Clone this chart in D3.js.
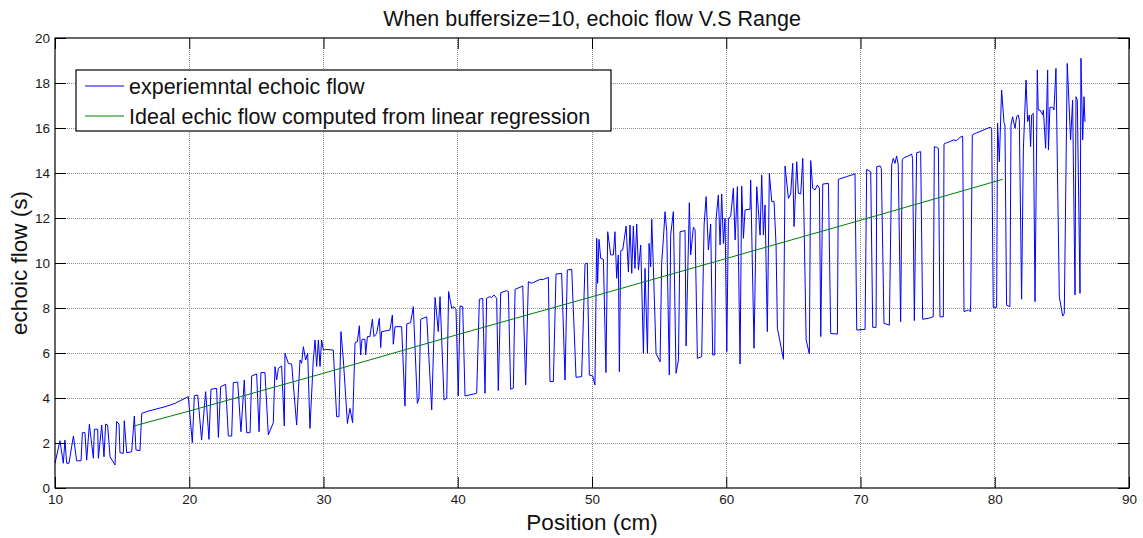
<!DOCTYPE html>
<html>
<head>
<meta charset="utf-8">
<script src="https://cdn.jsdelivr.net/npm/d3@7"></script>
<style>
  html, body { margin: 0; padding: 0; background: #fff; }
  svg { display: block; font-family: "Liberation Sans", Arial, sans-serif; }
</style>
</head>
<body>
<svg id="chart" width="1143" height="538"></svg>
<script>
// Measured echoic flow (s) against position (cm), buffer size 10
const experimental = [
  [10.0,1.10],[10.37,2.10],[10.62,1.10],[10.74,2.13],[10.87,1.10],[11.04,1.10],[11.37,2.31],[11.61,1.21],
  [11.94,1.21],[12.04,2.46],[12.23,2.46],[12.36,1.24],[12.56,2.83],[12.86,1.32],[12.93,2.61],[13.18,2.61],
  [13.23,1.32],[13.48,2.80],[13.65,1.39],[13.77,2.84],[13.92,2.80],[14.10,1.39],[14.47,1.02],[14.59,2.95],
  [14.77,2.84],[14.84,1.57],[15.09,1.54],[15.16,2.99],[15.34,1.57],[15.71,1.61],[15.91,3.20],[16.03,1.69],
  [16.33,1.66],[16.46,3.32],[17.08,3.44],[18.19,3.61],[18.94,3.76],[19.93,4.06],[20.23,2.01],[20.38,4.10],
  [20.63,4.13],[20.92,2.13],[21.22,4.28],[21.47,2.16],[21.62,4.39],[22.04,4.43],[22.17,2.25],[22.34,4.50],
  [22.71,4.61],[22.91,2.31],[23.16,2.31],[23.28,4.68],[23.61,4.71],[23.85,2.50],[24.10,4.80],[24.28,2.46],
  [24.53,2.46],[24.65,4.98],[25.02,5.07],[25.20,2.50],[25.34,5.13],[25.64,5.13],[25.89,2.36],[26.26,2.90],
  [26.39,5.39],[26.51,4.80],[26.64,5.32],[26.88,5.42],[27.08,2.76],[27.13,5.99],[27.38,5.54],[27.63,5.51],
  [28.00,2.80],[28.25,5.69],[28.37,5.54],[28.50,6.28],[28.67,5.69],[28.82,5.99],[28.99,2.65],[29.24,5.69],
  [29.37,6.58],[29.49,5.40],[29.62,6.58],[29.74,5.40],[29.86,6.58],[29.99,6.13],[30.16,6.16],[30.73,6.13],
  [30.98,3.17],[31.15,3.17],[31.30,6.95],[31.48,5.69],[31.78,2.87],[31.97,3.54],[32.17,2.90],[32.35,6.46],
  [32.52,6.50],[32.67,7.21],[32.77,5.91],[32.87,6.61],[33.09,6.61],[33.14,5.91],[33.27,6.73],[33.46,6.73],
  [33.64,7.50],[33.76,6.73],[33.96,6.87],[34.16,7.54],[34.26,6.24],[34.33,6.95],[34.95,7.02],[35.13,7.69],
  [35.20,6.39],[35.33,7.17],[35.82,7.17],[36.07,3.64],[36.20,7.29],[36.49,7.35],[36.69,8.06],[36.99,3.76],
  [37.11,3.99],[37.24,7.50],[37.69,7.61],[38.06,3.47],[38.31,8.47],[38.43,7.73],[38.55,6.95],[38.68,8.50],
  [38.98,3.91],[39.18,3.99],[39.32,8.73],[39.55,7.99],[39.72,8.06],[39.87,7.94],[40.04,4.09],[40.17,8.09],
  [40.37,8.06],[40.54,4.09],[41.41,4.21],[41.61,8.39],[41.86,8.43],[42.03,4.21],[42.15,8.43],[42.35,8.50],
  [42.53,8.47],[42.70,8.58],[42.90,8.43],[43.02,4.33],[43.20,8.68],[43.64,8.77],[43.77,8.73],[43.94,4.39],
  [44.14,4.44],[44.27,8.83],[44.64,8.92],[44.84,8.98],[45.06,4.58],[45.26,9.17],[45.51,9.10],[45.76,9.17],
  [46.13,9.27],[46.38,9.27],[46.75,9.36],[46.87,4.73],[47.12,4.73],[47.32,9.51],[47.74,9.54],[47.99,4.80],
  [48.16,9.69],[48.49,9.72],[48.81,4.92],[49.23,4.95],[49.48,9.96],[49.65,9.99],[49.80,5.02],[50.05,4.98],
  [50.22,4.58],[50.35,11.10],[50.42,9.10],[50.52,11.05],[50.65,10.21],[50.85,10.16],[51.04,5.13],[51.17,11.39],
  [51.39,10.36],[51.59,10.36],[51.71,11.39],[51.84,9.32],[51.96,10.36],[52.04,5.17],[52.14,10.55],[52.29,10.58],
  [52.54,11.64],[52.71,9.61],[52.83,11.69],[52.96,9.54],[53.08,11.64],[53.20,9.76],[53.33,11.73],[53.46,9.69],
  [53.63,10.80],[53.83,5.99],[53.95,9.76],[54.13,5.99],[54.25,10.87],[54.37,9.83],[54.45,11.94],[54.57,9.83],
  [54.77,5.99],[55.07,5.61],[55.19,10.00],[55.32,11.10],[55.44,12.28],[55.57,11.39],[55.76,5.02],[55.86,11.24],
  [56.06,12.28],[56.26,5.10],[56.44,5.69],[56.56,11.39],[56.93,11.44],[57.01,6.31],[57.25,12.68],[57.35,10.36],
  [57.55,11.59],[57.68,11.47],[57.85,5.76],[58.17,5.84],[58.35,11.69],[58.50,12.95],[58.67,10.58],[58.84,11.73],
  [58.99,5.91],[59.14,5.91],[59.24,11.94],[59.41,13.02],[59.54,10.80],[59.66,13.07],[59.79,10.87],[59.91,11.99],
  [60.04,6.06],[60.16,11.99],[60.33,12.06],[60.53,13.32],[60.66,11.02],[60.83,13.39],[61.03,5.51],[61.15,13.42],
  [61.28,11.10],[61.40,12.36],[61.77,12.39],[61.82,13.69],[62.07,6.21],[62.27,13.39],[62.52,11.24],[62.64,13.91],
  [62.77,11.24],[62.89,12.58],[63.06,6.95],[63.21,13.99],[63.39,12.73],[63.56,12.73],[63.71,10.80],[63.81,7.10],
  [64.26,5.72],[64.38,14.31],[64.63,12.87],[64.80,13.07],[64.95,14.43],[65.05,11.62],[65.25,14.50],[65.37,13.10],
  [65.55,13.07],[65.70,14.65],[65.80,11.69],[65.95,6.58],[66.19,5.96],[66.29,14.55],[66.44,13.32],[66.62,13.25],
  [66.79,13.47],[66.94,13.33],[67.04,6.73],[67.19,13.51],[67.61,13.54],[67.78,6.87],[68.28,6.84],[68.35,13.72],
  [68.97,13.84],[69.59,13.96],[69.72,7.02],[70.34,7.05],[70.46,14.16],[70.76,14.06],[70.91,7.14],[71.16,7.14],
  [71.21,14.28],[71.46,14.31],[71.55,14.21],[71.75,7.32],[72.15,7.24],[72.32,14.36],[72.44,14.65],[72.57,14.43],
  [72.69,14.76],[72.81,14.36],[72.99,7.39],[73.11,14.61],[73.31,14.70],[73.56,14.76],[73.81,14.84],[73.88,14.65],
  [74.01,7.44],[74.18,14.90],[74.48,14.95],[74.63,7.50],[75.05,7.54],[75.42,7.61],[75.50,15.17],[75.67,15.14],
  [75.80,15.10],[75.92,7.61],[76.17,7.61],[76.22,15.29],[76.42,15.35],[76.66,15.39],[76.91,15.47],[77.16,15.44],
  [77.41,15.58],[77.61,15.64],[77.71,7.84],[78.03,7.91],[78.20,7.84],[78.33,15.69],[78.65,15.79],[78.90,15.84],
  [79.27,15.94],[79.64,16.03],[79.77,15.99],[79.89,8.03],[80.14,8.03],[80.21,16.21],[80.34,14.50],[80.51,17.69],
  [80.69,16.24],[80.76,16.13],[80.88,8.13],[81.13,8.06],[81.21,16.13],[81.33,16.50],[81.51,15.99],[81.63,16.50],
  [81.75,16.58],[81.83,16.36],[82.00,8.39],[82.13,15.02],[82.33,18.13],[82.45,16.28],[82.57,16.58],[82.67,15.17],
  [82.75,16.58],[82.87,16.65],[83.00,8.28],[83.17,18.58],[83.24,16.80],[83.37,16.80],[83.57,16.58],[83.62,16.80],
  [83.79,15.10],[83.94,18.58],[84.00,15.02],[84.11,16.92],[84.31,16.92],[84.41,16.80],[84.56,18.65],[84.81,8.50],
  [85.06,7.64],[85.18,7.76],[85.40,18.87],[85.65,15.47],[85.80,17.24],[85.98,8.58],[86.05,17.39],[86.15,17.24],
  [86.35,8.65],[86.42,19.10],[86.55,15.47],[86.65,17.39],[86.72,16.28]
];

// Linear-regression estimate of the echoic flow
const ideal = [
  [15.91,2.76],[20.0,3.42],[30.0,5.10],[40.0,6.82],[50.0,8.50],[60.0,10.20],[70.0,11.90],[80.59,13.72]
];

const xTicks = [10, 20, 30, 40, 50, 60, 70, 80, 90];
const yTicks = [0, 2, 4, 6, 8, 10, 12, 14, 16, 18, 20];
const legendLabels = ["experiemntal echoic flow", "Ideal echic flow computed from linear regression"];
const seriesColors = ["#0000ff", "#008000"];
const titleText = "When buffersize=10, echoic flow V.S Range";
const xLabel = "Position (cm)";
const yLabel = "echoic flow (s)";

const svg = d3.select("#chart");
const plot = { left: 55, right: 1129, top: 38, bottom: 488 };

const x = d3.scaleLinear().domain([10, 90]).range([plot.left, plot.right]);
const y = d3.scaleLinear().domain([0, 20]).range([plot.bottom, plot.top]);

// Dotted grid
const grid = svg.append("g").attr("stroke", "#8c8c8c").attr("stroke-width", 1)
  .attr("stroke-dasharray", "1,1").attr("shape-rendering", "crispEdges");
xTicks.slice(1, -1).forEach(t => {
  grid.append("line").attr("x1", x(t)).attr("x2", x(t)).attr("y1", plot.top).attr("y2", plot.bottom);
});
yTicks.slice(1, -1).forEach(t => {
  grid.append("line").attr("x1", plot.left).attr("x2", plot.right).attr("y1", y(t)).attr("y2", y(t));
});

// Series
const line = d3.line().x(d => x(d[0])).y(d => y(d[1]));
svg.append("path").datum(experimental).attr("d", line)
  .attr("fill", "none").attr("stroke", seriesColors[0]).attr("stroke-width", 1).attr("stroke-linejoin", "round");
svg.append("path").datum(ideal).attr("d", line)
  .attr("fill", "none").attr("stroke", seriesColors[1]).attr("stroke-width", 1);

// Axes with inward ticks on all four sides
const tickLen = 11;
const axisStyle = g => {
  g.select(".domain").remove();
  g.selectAll(".tick line").attr("stroke", "#000");
  g.selectAll(".tick text").attr("fill", "#1a1a1a").style("font-size", "13.5px")
    .style("font-family", "'Liberation Sans', Arial, sans-serif");
};
svg.append("g").attr("transform", `translate(0,${plot.bottom})`)
  .call(d3.axisBottom(x).tickValues(xTicks).tickSizeInner(-tickLen).tickSizeOuter(0).tickPadding(6))
  .call(axisStyle);
svg.append("g").attr("transform", `translate(0,${plot.top})`)
  .call(d3.axisTop(x).tickValues(xTicks).tickSizeInner(-tickLen).tickSizeOuter(0).tickFormat(""))
  .call(axisStyle);
svg.append("g").attr("transform", `translate(${plot.left},0)`)
  .call(d3.axisLeft(y).tickValues(yTicks).tickSizeInner(-tickLen).tickSizeOuter(0).tickPadding(5))
  .call(axisStyle);
svg.append("g").attr("transform", `translate(${plot.right},0)`)
  .call(d3.axisRight(y).tickValues(yTicks).tickSizeInner(-tickLen).tickSizeOuter(0).tickFormat(""))
  .call(axisStyle);

// Box
svg.append("rect").attr("x", plot.left).attr("y", plot.top)
  .attr("width", plot.right - plot.left).attr("height", plot.bottom - plot.top)
  .attr("fill", "none").attr("stroke", "#000").attr("stroke-width", 1.2);

// Title and axis labels
svg.append("text").attr("x", (plot.left + plot.right) / 2).attr("y", 26)
  .attr("text-anchor", "middle").style("font-size", "21.5px").attr("fill", "#111").text(titleText);
svg.append("text").attr("x", (plot.left + plot.right) / 2).attr("y", 530)
  .attr("text-anchor", "middle").style("font-size", "22.5px").attr("fill", "#111").text(xLabel);
svg.append("text").attr("transform", `translate(27,${(plot.top + plot.bottom) / 2}) rotate(-90)`)
  .attr("text-anchor", "middle").style("font-size", "22.5px").attr("fill", "#111").text(yLabel);

// Legend
const legend = svg.append("g");
legend.append("rect").attr("x", 76).attr("y", 70).attr("width", 535).attr("height", 61)
  .attr("fill", "#fff").attr("stroke", "#000").attr("stroke-width", 1.2);
legendLabels.forEach((label, i) => {
  const ly = 86 + i * 30;
  legend.append("line").attr("x1", 85).attr("x2", 124).attr("y1", ly).attr("y2", ly)
    .attr("stroke", seriesColors[i]).attr("stroke-width", 1);
  legend.append("text").attr("x", 129).attr("y", ly + 7.5).style("font-size", "21.5px")
    .attr("fill", "#111").text(label);
});
</script>
</body>
</html>
